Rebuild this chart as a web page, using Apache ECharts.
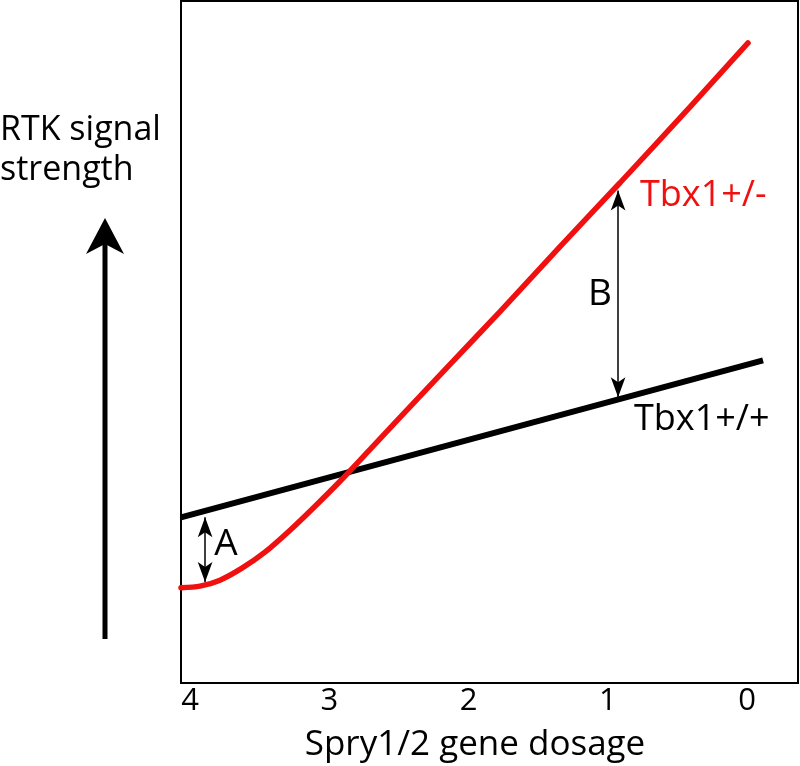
<!DOCTYPE html>
<html>
<head>
<meta charset="utf-8">
<script src="https://cdn.jsdelivr.net/npm/echarts@6/dist/echarts.min.js"></script>
<style>
  html, body { margin: 0; padding: 0; background: #fff; }
  #chart { width: 800px; height: 766px; }
</style>
</head>
<body>
<div id="chart"></div>
<script>
// Spry1/2 gene dosage on x (4 -> 0), RTK signal strength on y (arbitrary units 0-100)
const xTickValues = [4, 3, 2, 1, 0]

// Tbx1+/+ (black, straight)
const dosageWT = [4.065, -0.115]
const signalWT = [24.3, 47.3]

// Tbx1+/- (red, curved then straight)
const dosageHet = [4.065, 3.928, 3.785, 3.627, 3.462, 3.282, 3.102, 2.923, 2.707, 2.492, 2.133, 1.774, 1.343, 0.912, 0.409, -0.007]
const signalHet = [13.98, 14.20, 15.08, 16.84, 19.18, 22.40, 25.92, 29.58, 34.26, 38.95, 46.71, 54.47, 63.98, 73.35, 84.48, 93.85]

// double headed arrows A and B: [x, yFrom, yTo]
const arrowA = [3.892, 24.3, 14.8]
const arrowB = [0.926, 72.2, 41.9]

const fontFamily = '"Open Sans", "DejaVu Sans", sans-serif'

function zip (xs, ys) {
  return xs.map((x, i) => [x, ys[i]])
}

const chart = echarts.init(document.getElementById('chart'))

const option = {
  animation: false,
  backgroundColor: '#fff',
  grid: {
    left: 181,
    right: 2,
    top: 1,
    bottom: 83,
    show: true,
    borderColor: '#000',
    borderWidth: 2
  },
  xAxis: {
    type: 'value',
    inverse: true,
    min: -0.366,
    max: 4.065,
    axisLine: { show: false },
    axisTick: { show: false },
    splitLine: { show: false },
    axisLabel: {
      customValues: xTickValues,
      margin: 3,
      color: '#000',
      fontSize: 31,
      fontFamily: fontFamily
    }
  },
  yAxis: {
    type: 'value',
    min: 0,
    max: 100,
    axisLine: { show: false },
    axisTick: { show: false },
    splitLine: { show: false },
    axisLabel: { show: false }
  },
  series: [
    {
      name: 'Tbx1+/+',
      type: 'line',
      data: zip(dosageWT, signalWT),
      symbol: 'none',
      lineStyle: { color: '#000', width: 6 }
    },
    {
      name: 'Tbx1+/-',
      type: 'line',
      data: zip(dosageHet, signalHet),
      smooth: 0.3,
      symbol: 'none',
      lineStyle: { color: '#f01010', width: 5.5, cap: 'round' }
    },
    {
      type: 'lines',
      coordinateSystem: 'cartesian2d',
      symbol: ['arrow', 'arrow'],
      symbolSize: [[11, 20], [11, 20]],
      lineStyle: { color: '#000', width: 1.5, opacity: 1 },
      data: [
        { coords: [[arrowA[0], arrowA[1]], [arrowA[0], arrowA[2]]] },
        { coords: [[arrowB[0], arrowB[1]], [arrowB[0], arrowB[2]]] }
      ]
    }
  ],
  graphic: [
    // y axis label and arrow on the left
    { type: 'text', x: 0, y: 130, style: { text: 'RTK signal', font: '34px ' + fontFamily, fill: '#000', align: 'left', verticalAlign: 'middle' } },
    { type: 'text', x: 0, y: 170, style: { text: 'strength', font: '34px ' + fontFamily, fill: '#000', align: 'left', verticalAlign: 'middle' } },
    { type: 'line', shape: { x1: 105, y1: 639, x2: 105, y2: 240 }, style: { stroke: '#000', lineWidth: 5 } },
    { type: 'polygon', shape: { points: [[105, 218], [124, 254], [105, 244], [86, 254]] }, style: { fill: '#000' } },
    // x axis title
    { type: 'text', x: 475, y: 745, style: { text: 'Spry1/2 gene dosage', font: '35px ' + fontFamily, fill: '#000', align: 'center', verticalAlign: 'middle' } },
    // annotations
    { type: 'text', x: 640, y: 196, style: { text: 'Tbx1+/-', font: '36px ' + fontFamily, fill: '#f01010', align: 'left', verticalAlign: 'middle' } },
    { type: 'text', x: 634, y: 420, style: { text: 'Tbx1+/+', font: '36px ' + fontFamily, fill: '#000', align: 'left', verticalAlign: 'middle' } },
    { type: 'text', x: 600, y: 294, style: { text: 'B', font: '37px ' + fontFamily, fill: '#000', align: 'center', verticalAlign: 'middle' } },
    { type: 'text', x: 226, y: 544, style: { text: 'A', font: '37px ' + fontFamily, fill: '#000', align: 'center', verticalAlign: 'middle' } }
  ]
}

chart.setOption(option)
</script>
</body>
</html>
